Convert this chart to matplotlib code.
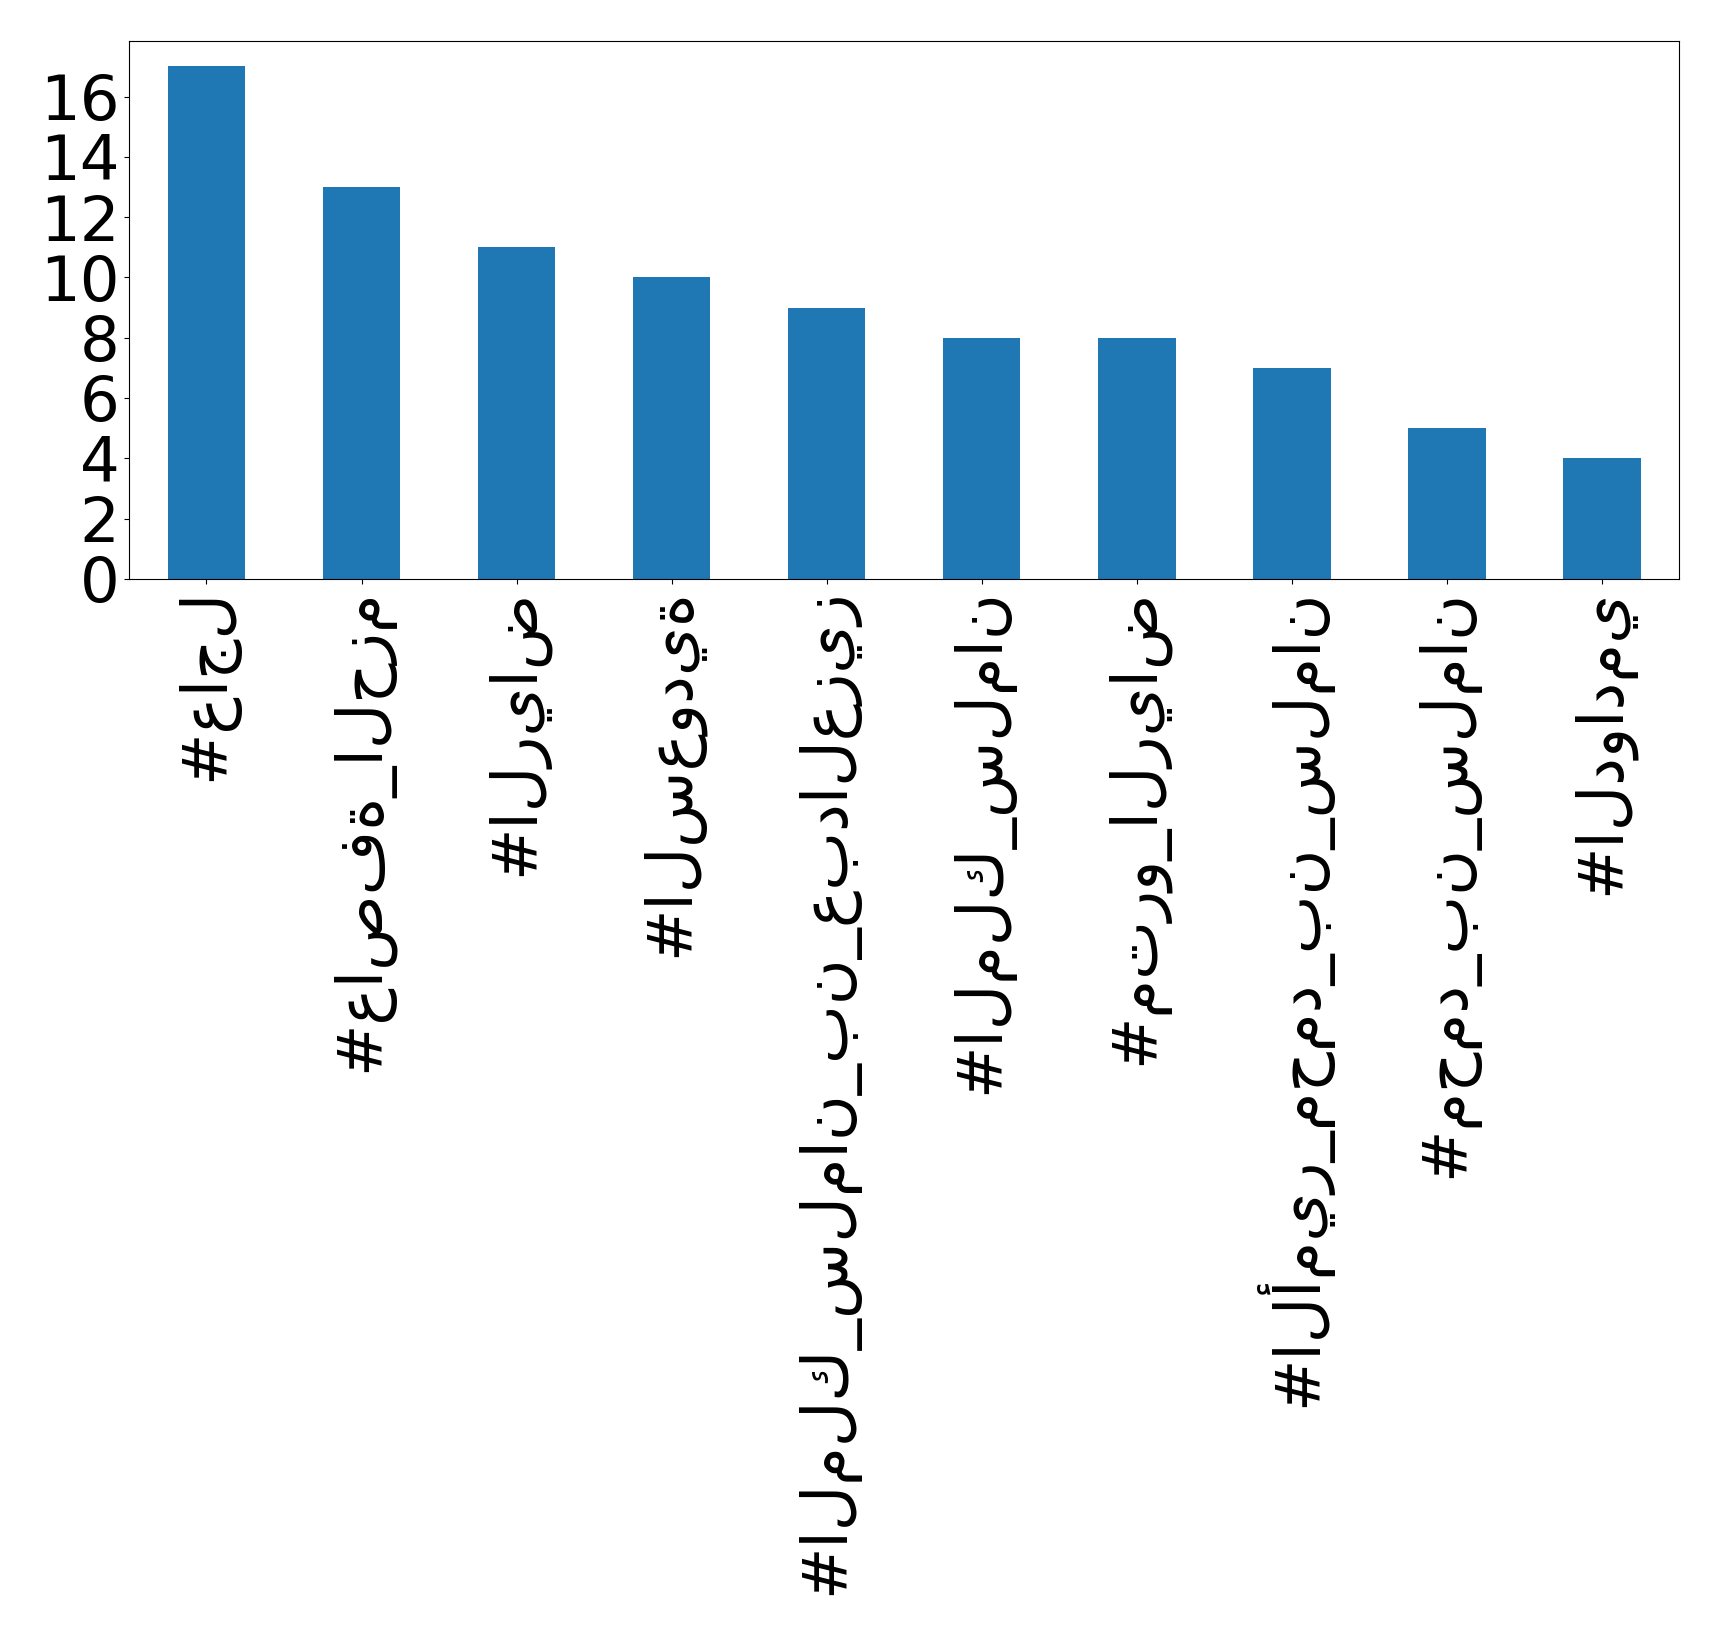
import matplotlib
matplotlib.use("Agg")
import matplotlib.pyplot as plt
import numpy as np

hashtags = [
    "#عاجل",
    "#عاصفة_الحزم",
    "#الرياض",
    "#السعودية",
    "#الملك_سلمان_بن_عبدالعزيز",
    "#الملك_سلمان",
    "#مترو_الرياض",
    "#الأمير_محمد_بن_سلمان",
    "#محمد_بن_سلمان",
    "#الدوادمي",
]
counts = [17, 13, 11, 10, 9, 8, 8, 7, 5, 4]

fig = plt.figure(figsize=(17.19, 16.35), dpi=100)
ax = fig.add_axes([0.075, 0.646, 0.902, 0.329])

x = np.arange(len(hashtags))
ax.bar(x, counts, width=0.5, color="#1f77b4")
ax.set_xlim(-0.5, len(hashtags) - 0.5)
ax.set_ylim(0, max(counts) * 1.05)
ax.set_xticks(x)
ax.set_xticklabels(hashtags, rotation=90, fontsize=45)
ax.set_yticks(range(0, 17, 2))
ax.tick_params(axis="y", labelsize=45)

fig.savefig("out.png", dpi=100)
